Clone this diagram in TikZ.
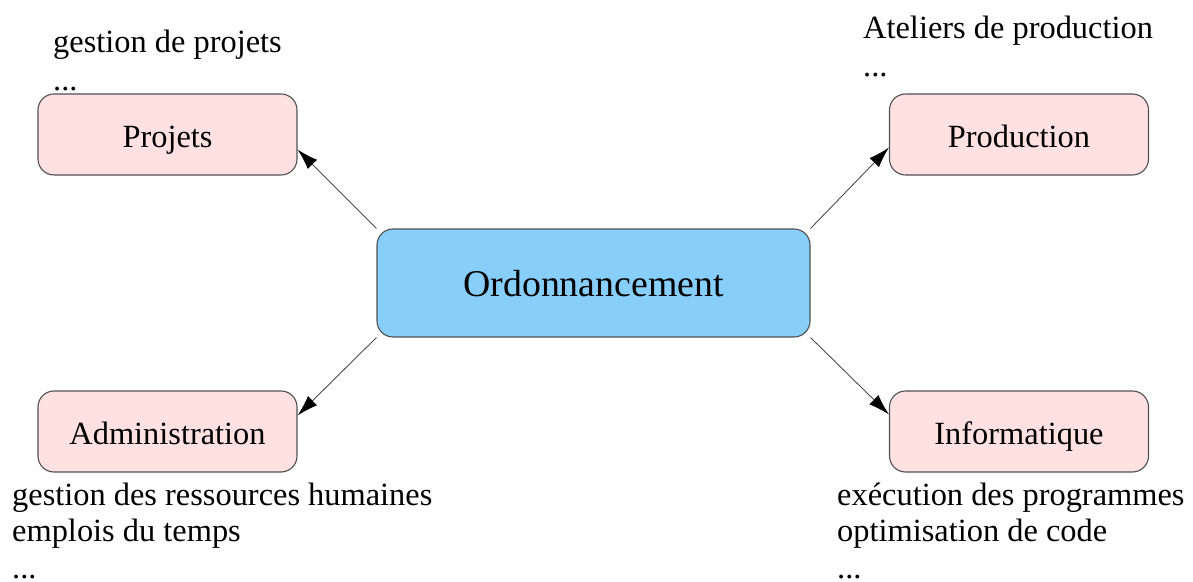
\documentclass[tikz,border=0pt]{standalone}
\usepackage{fontspec}
\setmainfont{Liberation Serif}
\usepackage{xcolor}
\usetikzlibrary{arrows.meta}

\definecolor{boxpink}{HTML}{FFE1E1}
\definecolor{boxblue}{HTML}{87CEFA}
\definecolor{boxline}{HTML}{505050}

\begin{document}
\begin{tikzpicture}[x=1pt,y=1pt,
    domaine/.style={draw=boxline, line width=1.1pt, fill=boxpink, rounded corners=16pt,
      minimum width=259pt, minimum height=81pt, text height=30pt, text depth=4pt,
      font=\fontsize{32.4}{38}\selectfont},
    centre/.style={domaine, fill=boxblue, minimum width=433pt, minimum height=108pt,
      text height=34pt, text depth=6pt, font=\fontsize{37.8}{44}\selectfont},
    liste/.style={anchor=base west, align=left, inner sep=0pt,
      font=\fontsize{32.4}{38.5}\selectfont},
    listebas/.style={liste, font=\fontsize{32.4}{36.5}\selectfont},
    lien/.style={draw=black!70, line width=0.9pt},
    >={Latex[length=21pt,width=13pt,color=black]}]
  \useasboundingbox (0,0) rectangle (1193,581);
  % boites
  \node[centre] (ord) at (593.5,298) {Ordonnancement};
  \node[domaine] (proj) at (167.5,446.5) {Projets};
  \node[domaine] (prod) at (1019,446.5) {Production};
  \node[domaine] (admin) at (167.5,149.5) {Administration};
  \node[domaine] (info) at (1019,149.5) {Informatique};
  % exemples (ancre = ligne de base de la derniere ligne)
  \node[liste] (lproj) at (53,490) {gestion de projets\\...};
  \node[liste] (lprod) at (863,504) {Ateliers de production\\...};
  \node[listebas] (ladmin) at (12,3) {gestion des ressources humaines\\emplois du temps\\...};
  \node[listebas] (linfo) at (837,3) {exécution des programmes\\optimisation de code\\...};
  % liens
  \path[->] (ord.north west) edge[lien] ([yshift=-15pt]proj.east);
  \path[->] (ord.north east) edge[lien] ([yshift=-13pt]prod.west);
  \path[->] (ord.south west) edge[lien] ([yshift=16pt]admin.east);
  \path[->] (ord.south east) edge[lien] ([yshift=17pt]info.west);
\end{tikzpicture}
\end{document}
